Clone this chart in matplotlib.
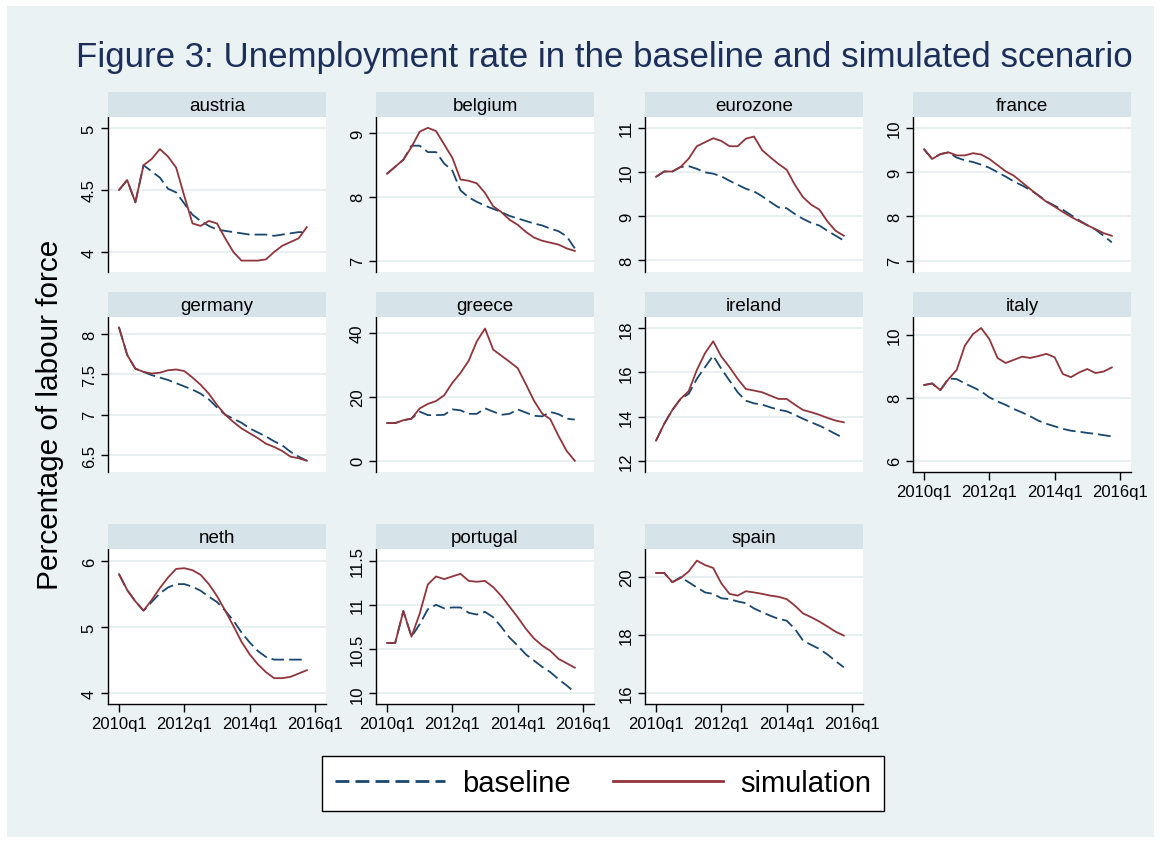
import matplotlib
matplotlib.use('Agg')
import matplotlib.pyplot as plt
from matplotlib.lines import Line2D
from matplotlib.patches import Rectangle

plt.rcParams['font.family'] = ['Liberation Sans', 'DejaVu Sans']

# ---------------- data ----------------
quarters = list(range(24))  # 2010q1 ... 2015q4
xtick_pos = [0, 8, 16, 24]
xtick_labels = ['2010q1', '2012q1', '2014q1', '2016q1']

countries = ['austria', 'belgium', 'eurozone', 'france',
             'germany', 'greece', 'ireland', 'italy',
             'neth', 'portugal', 'spain']

austria_baseline = [4.50, 4.58, 4.40, 4.70, 4.65, 4.60, 4.51, 4.48, 4.39, 4.30, 4.25, 4.21,
                    4.18, 4.17, 4.16, 4.15, 4.14, 4.14, 4.14, 4.13, 4.14, 4.15, 4.16, 4.16]
austria_simulation = [4.50, 4.58, 4.40, 4.70, 4.75, 4.83, 4.77, 4.68, 4.45, 4.23, 4.21, 4.25,
                      4.23, 4.11, 4.00, 3.93, 3.93, 3.93, 3.94, 4.00, 4.05, 4.08, 4.11, 4.20]

belgium_baseline = [8.36, 8.47, 8.58, 8.80, 8.80, 8.70, 8.70, 8.52, 8.41, 8.10, 7.99, 7.92,
                    7.86, 7.81, 7.76, 7.70, 7.66, 7.62, 7.58, 7.55, 7.50, 7.46, 7.38, 7.19]
belgium_simulation = [8.36, 8.47, 8.58, 8.78, 9.02, 9.08, 9.03, 8.82, 8.61, 8.27, 8.25, 8.21,
                      8.06, 7.85, 7.76, 7.64, 7.56, 7.45, 7.36, 7.31, 7.28, 7.25, 7.19, 7.15]

eurozone_baseline = [9.89, 10.01, 10.01, 10.11, 10.13, 10.07, 9.99, 9.96, 9.90, 9.80, 9.71, 9.62,
                     9.56, 9.45, 9.32, 9.20, 9.18, 9.05, 8.94, 8.85, 8.79, 8.67, 8.56, 8.45]
eurozone_simulation = [9.89, 10.01, 10.01, 10.11, 10.30, 10.58, 10.67, 10.76, 10.70, 10.58, 10.58, 10.75,
                       10.80, 10.49, 10.33, 10.18, 10.05, 9.71, 9.43, 9.26, 9.15, 8.88, 8.67, 8.56]

france_baseline = [9.52, 9.30, 9.41, 9.45, 9.33, 9.27, 9.23, 9.17, 9.10, 9.00, 8.90, 8.79,
                   8.70, 8.60, 8.48, 8.34, 8.24, 8.15, 8.03, 7.91, 7.80, 7.70, 7.56, 7.41]
france_simulation = [9.52, 9.30, 9.41, 9.45, 9.38, 9.38, 9.43, 9.40, 9.30, 9.16, 9.02, 8.92,
                     8.77, 8.62, 8.47, 8.33, 8.22, 8.10, 7.99, 7.89, 7.80, 7.71, 7.62, 7.56]

germany_baseline = [8.08, 7.74, 7.57, 7.53, 7.49, 7.46, 7.43, 7.39, 7.35, 7.31, 7.26, 7.19,
                    7.09, 7.00, 6.95, 6.90, 6.83, 6.78, 6.73, 6.67, 6.62, 6.54, 6.48, 6.43]
germany_simulation = [8.08, 7.74, 7.57, 7.53, 7.51, 7.52, 7.55, 7.56, 7.54, 7.46, 7.37, 7.26,
                      7.12, 7.00, 6.91, 6.83, 6.77, 6.71, 6.64, 6.60, 6.55, 6.48, 6.46, 6.43]

greece_baseline = [11.8, 11.8, 12.7, 13.2, 15.4, 14.3, 14.3, 14.4, 16.1, 15.8, 14.7, 14.7,
                   16.4, 15.4, 14.4, 14.7, 16.1, 15.1, 14.1, 13.9, 15.3, 14.6, 13.2, 12.9]
greece_simulation = [11.8, 11.8, 12.7, 13.2, 16.4, 17.8, 18.7, 20.5, 24.4, 27.5, 31.3, 37.4,
                     41.4, 34.8, 32.9, 31.0, 29.0, 24.0, 18.8, 14.8, 13.0, 7.8, 3.1, 0.0]

ireland_baseline = [12.91, 13.67, 14.30, 14.80, 15.03, 15.71, 16.24, 16.76, 16.16, 15.63, 15.10, 14.72,
                    14.60, 14.54, 14.42, 14.31, 14.24, 14.08, 13.90, 13.74, 13.59, 13.41, 13.21, 13.03]
ireland_simulation = [12.91, 13.67, 14.30, 14.80, 15.15, 16.11, 16.87, 17.41, 16.72, 16.24, 15.71, 15.25,
                      15.18, 15.10, 14.95, 14.80, 14.80, 14.54, 14.30, 14.20, 14.08, 13.94, 13.82, 13.74]

italy_baseline = [8.40, 8.45, 8.24, 8.61, 8.59, 8.45, 8.33, 8.20, 8.01, 7.88, 7.77, 7.64,
                  7.53, 7.41, 7.27, 7.17, 7.09, 7.01, 6.95, 6.92, 6.88, 6.85, 6.81, 6.77]
italy_simulation = [8.40, 8.45, 8.24, 8.59, 8.88, 9.65, 10.02, 10.21, 9.86, 9.26, 9.10, 9.20,
                    9.30, 9.26, 9.32, 9.39, 9.28, 8.75, 8.65, 8.80, 8.91, 8.78, 8.83, 8.96]

neth_baseline = [5.80, 5.56, 5.39, 5.25, 5.38, 5.51, 5.60, 5.65, 5.65, 5.61, 5.55, 5.46,
                 5.38, 5.25, 5.10, 4.92, 4.77, 4.64, 4.55, 4.51, 4.51, 4.51, 4.51, 4.51]
neth_simulation = [5.80, 5.56, 5.39, 5.25, 5.41, 5.59, 5.75, 5.88, 5.89, 5.86, 5.79, 5.65,
                   5.47, 5.25, 5.02, 4.78, 4.59, 4.44, 4.32, 4.23, 4.23, 4.25, 4.30, 4.35]

portugal_baseline = [10.57, 10.57, 10.93, 10.64, 10.78, 10.95, 11.00, 10.96, 10.97, 10.97, 10.91, 10.89,
                     10.92, 10.86, 10.75, 10.63, 10.54, 10.44, 10.37, 10.30, 10.24, 10.16, 10.09, 10.01]
portugal_simulation = [10.57, 10.57, 10.93, 10.64, 10.90, 11.23, 11.32, 11.29, 11.32, 11.35, 11.27, 11.26,
                       11.27, 11.20, 11.10, 10.98, 10.86, 10.73, 10.62, 10.54, 10.48, 10.39, 10.34, 10.29]

spain_baseline = [20.13, 20.13, 19.81, 19.98, 19.81, 19.63, 19.46, 19.41, 19.26, 19.23, 19.15, 19.09,
                  18.91, 18.78, 18.66, 18.55, 18.49, 18.21, 17.81, 17.66, 17.52, 17.33, 17.10, 16.89]
spain_simulation = [20.13, 20.13, 19.81, 19.95, 20.18, 20.55, 20.40, 20.30, 19.77, 19.41, 19.35, 19.50,
                    19.46, 19.41, 19.35, 19.31, 19.23, 19.01, 18.74, 18.61, 18.46, 18.29, 18.11, 17.98]

baseline = [austria_baseline, belgium_baseline, eurozone_baseline, france_baseline,
            germany_baseline, greece_baseline, ireland_baseline, italy_baseline,
            neth_baseline, portugal_baseline, spain_baseline]
simulation = [austria_simulation, belgium_simulation, eurozone_simulation, france_simulation,
              germany_simulation, greece_simulation, ireland_simulation, italy_simulation,
              neth_simulation, portugal_simulation, spain_simulation]

yticks = [[4, 4.5, 5], [7, 8, 9], [8, 9, 10, 11], [7, 8, 9, 10],
          [6.5, 7, 7.5, 8], [0, 20, 40], [12, 14, 16, 18], [6, 8, 10],
          [4, 5, 6], [10, 10.5, 11, 11.5], [16, 18, 20]]
ytick_labels = [['4', '4.5', '5'], ['7', '8', '9'], ['8', '9', '10', '11'], ['7', '8', '9', '10'],
                ['6.5', '7', '7.5', '8'], ['0', '20', '40'], ['12', '14', '16', '18'], ['6', '8', '10'],
                ['4', '5', '6'], ['10', '10.5', '11', '11.5'], ['16', '18', '20']]

# ---------------- style / layout ----------------
W, H = 1161, 845
BG = '#eaf2f3'
STRIP = '#d6e3e9'
NAVY = '#1a476f'
MAROON = '#90353b'
GRID = '#e6eef0'

ylims = [(3.838, 5.089), (6.82, 9.25), (7.74, 11.24), (6.74, 10.25),
         (6.29, 8.21), (-3.5, 45.0), (11.49, 18.51), (5.64, 10.56),
         (3.84, 6.18), (9.88, 11.63), (15.63, 20.95)]

col_left = [108, 376, 645, 913]
panel_w = 218
row_top = [118, 318, 550]
panel_h = 155
strip_h = 25

fig = plt.figure(figsize=(W / 100, H / 100), dpi=100)
fig.patch.set_facecolor('white')
fig.patches.append(Rectangle((7 / W, 7 / H), (W - 14) / W, (H - 14) / H,
                             transform=fig.transFigure, facecolor=BG,
                             edgecolor='none', zorder=-10))

fig.text(604 / W, 1 - 58 / H,
         'Figure 3: Unemployment rate in the baseline and simulated scenario',
         ha='center', va='center', fontsize=25.1, color='#1c2f5b')
fig.text(50 / W, 1 - 415 / H, 'Percentage of labour force', rotation=90,
         ha='center', va='center', fontsize=21.4, color='black')

dash = (0, (7.0, 2.8))
lw = 1.3

for k, name in enumerate(countries):
    r, c = divmod(k, 4)
    left = col_left[c]
    top = row_top[r]
    ax = fig.add_axes([left / W, 1 - (top + panel_h) / H, panel_w / W, panel_h / H])
    ax.set_facecolor('white')
    ax.plot(quarters, baseline[k], color=NAVY, lw=lw, linestyle=dash, zorder=3)
    ax.plot(quarters, simulation[k], color=MAROON, lw=lw, zorder=4)
    ax.set_xlim(-1.35, 25.35)
    ax.set_ylim(*ylims[k])
    ax.set_yticks(yticks[k])
    ax.set_yticklabels(ytick_labels[k], rotation=90, va='center', fontsize=12)
    for v in yticks[k]:
        ax.axhline(v, color=GRID, lw=1.3, zorder=1)
    for s in ['top', 'right']:
        ax.spines[s].set_visible(False)
    ax.spines['left'].set_linewidth(1.0)
    ax.tick_params(axis='y', direction='out', length=5, width=1.0, pad=3)
    show_x = (r == 2) or (name == 'italy')
    if show_x:
        ax.spines['bottom'].set_linewidth(1.0)
        ax.set_xticks(xtick_pos)
        ax.set_xticklabels(xtick_labels, fontsize=12)
        ax.tick_params(axis='x', direction='out', length=6, width=1.0, pad=3)
    else:
        ax.spines['bottom'].set_visible(False)
        ax.set_xticks([])
    # strip header
    sax = fig.add_axes([left / W, 1 - top / H, panel_w / W, strip_h / H])
    sax.set_facecolor(STRIP)
    sax.set_xticks([])
    sax.set_yticks([])
    for s in sax.spines.values():
        s.set_visible(False)
    sax.text(0.5, 0.45, name, ha='center', va='center', fontsize=13.5,
             transform=sax.transAxes)

handles = [Line2D([], [], color=NAVY, lw=2.0, linestyle=(0, (5.0, 2.2))),
           Line2D([], [], color=MAROON, lw=2.0)]
leg = fig.legend(handles, ['baseline', 'simulation'], loc='center',
                 bbox_to_anchor=(603 / W, 1 - 784.5 / H), ncol=2, fontsize=21,
                 frameon=True, fancybox=False, edgecolor='black', facecolor='white',
                 handlelength=3.77, handletextpad=0.6, columnspacing=1.43,
                 borderpad=0.45, borderaxespad=0)
leg.get_frame().set_linewidth(1.0)
leg.get_frame().set_alpha(1)

fig.savefig('out.png', dpi=100, facecolor=fig.get_facecolor())
